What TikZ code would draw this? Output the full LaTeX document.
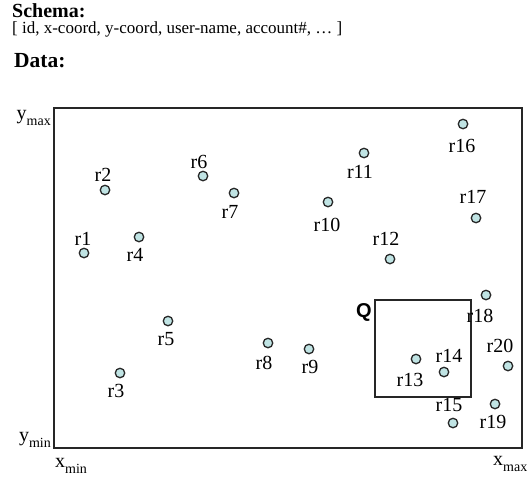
\documentclass[tikz,border=0pt]{standalone}
\usepackage{fontspec}
\setmainfont{Liberation Serif}
\newfontfamily\qfont{Liberation Sans}
\definecolor{ptfill}{RGB}{192,228,228}
\newcommand\lowsub[1]{\raisebox{-6pt}{\fontsize{14}{14}\selectfont #1}}
\begin{document}
\begin{tikzpicture}[x=1pt,y=-1pt,
  pt/.style={circle,draw=black!85,fill=ptfill,line width=1.3pt,inner sep=0pt,minimum size=9.5pt},
  lab/.style={font=\fontsize{20}{20}\selectfont,inner sep=0pt},
  axlab/.style={font=\fontsize{20}{20}\selectfont,inner sep=0pt},
  head/.style={font=\fontsize{20}{20}\selectfont\bfseries,inner sep=0pt,anchor=base west},
  frame/.style={draw=black!85,line width=1.4pt},
  qbox/.style={draw=black!85,line width=1.1pt}]
\useasboundingbox (0,0) rectangle (527,480);
\node[head] (schema) at (12,17) {Schema:};
\node[font=\fontsize{17}{17}\selectfont,inner sep=0pt,anchor=base west] (attrs) at (12,33) {[ id, x-coord, y-coord, user-name, account\#, … ]};
\node[head,font=\fontsize{21.5}{21.5}\selectfont\bfseries] (data) at (14,67) {Data:};
\draw[frame] (54,108) rectangle (522,448);
\node[axlab,anchor=base east] (ymax) at (51,119) {y\lowsub{max}};
\node[axlab,anchor=base east] (ymin) at (51,441) {y\lowsub{min}};
\node[axlab,anchor=base west] (xmin) at (55,467) {x\lowsub{min}};
\node[axlab,anchor=base west] (xmax) at (493,465) {x\lowsub{max}};
\draw[qbox] (375,300) rectangle (471,397);
\node[font=\fontsize{20}{20}\selectfont\qfont\bfseries,inner sep=0pt] (q) at (364,312) {Q};
\foreach \n/\px/\py/\lx/\ly in {1/84/253/83/239, 2/105/190/103/175, 3/120/373/116/391, 4/139/237/135/255,
  5/168/321/166/339, 6/203/176/199/162, 7/234/193/230/212, 8/268/343/264/363, 9/309/349/310/367,
  10/328/202/327/225, 11/364/153/360/172, 12/390/259/386/239, 13/416/359/410/380, 14/444/372/449/356,
  15/453/423/449/405, 16/463/124/462/146, 17/476/218/473/197, 18/486/295/480/316, 19/495/404/493/422,
  20/508/366/500/346}{
  \node[pt] (p\n) at (\px,\py) {};
  \node[lab] (l\n) at (\lx,\ly) {r\n};
}
\end{tikzpicture}
\end{document}
